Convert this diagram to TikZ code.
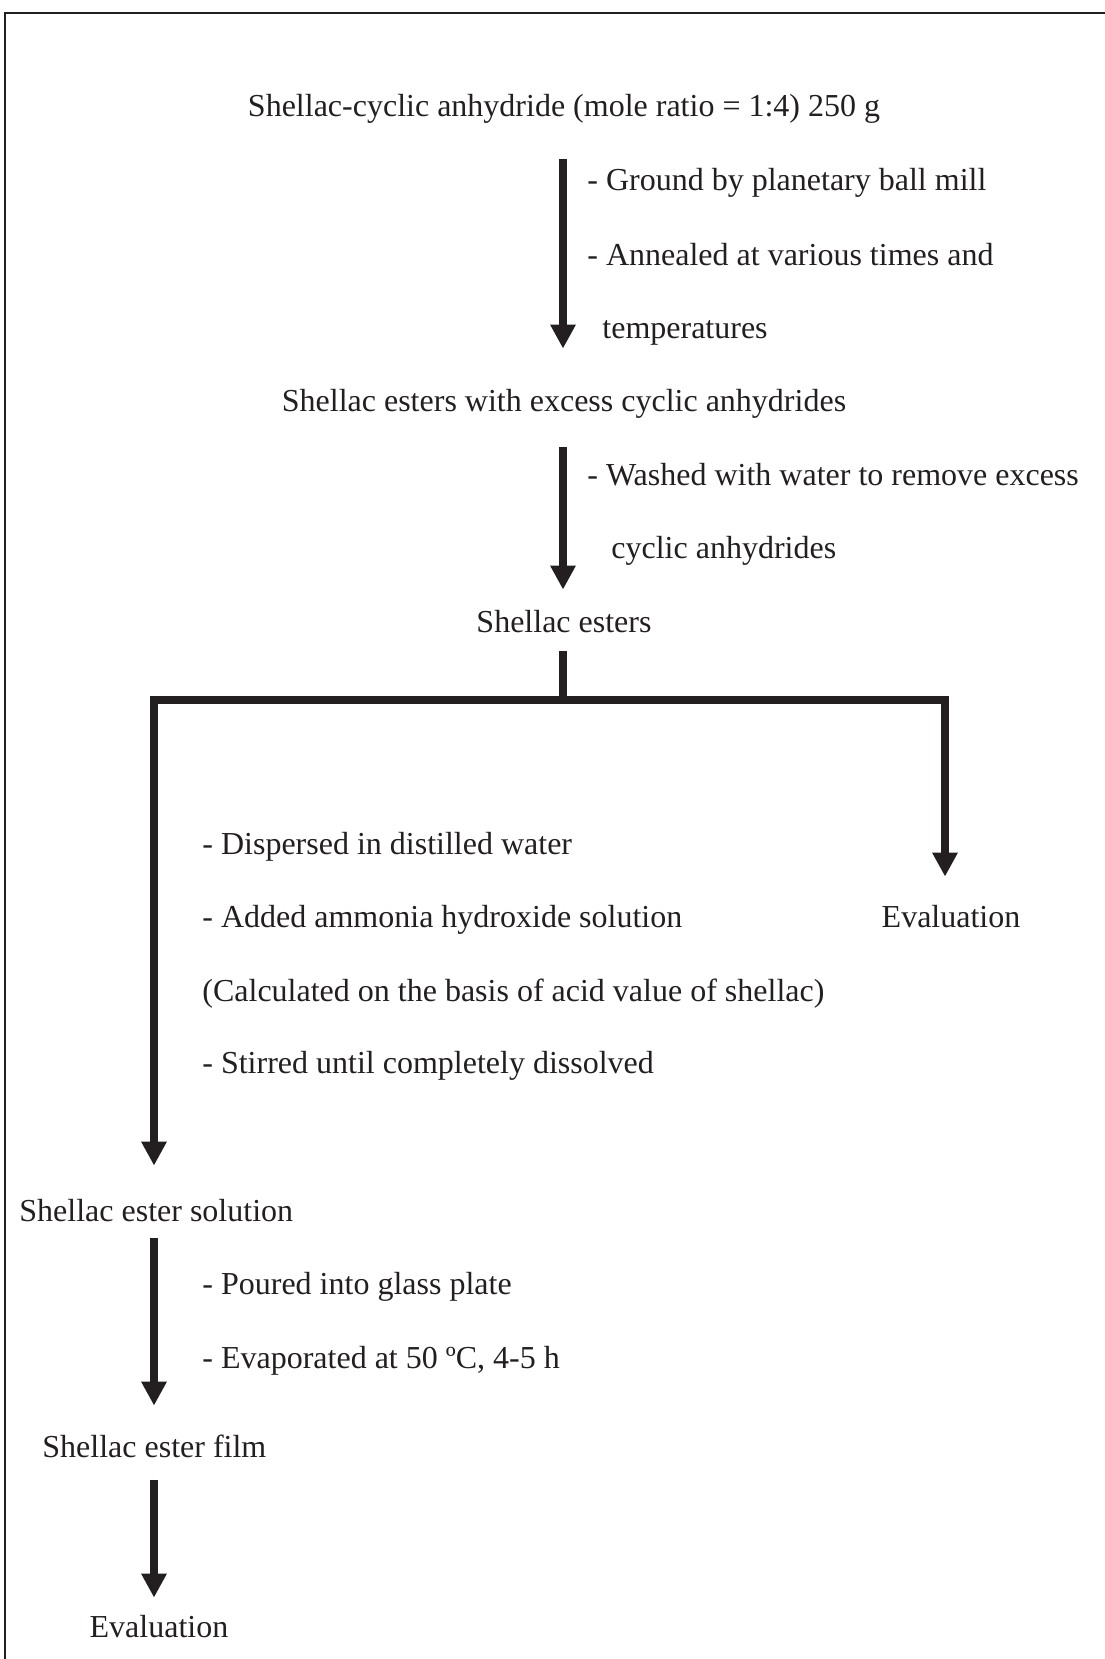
\documentclass[tikz,border=0pt]{standalone}
\usepackage{fontspec}
\setmainfont{Liberation Serif}
\usetikzlibrary{arrows.meta}
\definecolor{ink}{HTML}{231F20}
\begin{document}
\begin{tikzpicture}[x=0.5pt,y=-0.5pt,
  txt/.style={inner sep=0pt,text height=11pt,text depth=3.5pt,font=\fontsize{16}{19}\selectfont,text=ink},
  arr/.style={draw=ink,line width=4pt,-{Triangle[length=12pt,width=12pt]}},
  bar/.style={draw=ink,line width=4pt,line cap=rect},
  stemline/.style={draw=ink,line width=4pt}]
\useasboundingbox (0,0) rectangle (1104,1659);
\draw[ink,line width=1pt] (5,1670) -- (5,13) -- (1115,13);
% nodes
\node[txt,anchor=base] (title) at (564,117) {Shellac-cyclic anhydride (mole ratio = 1:4) 250 g};
\node[txt,anchor=base west] (g1) at (587,191) {- Ground by planetary ball mill};
\node[txt,anchor=base west] (g2) at (587,265) {- Annealed at various times and};
\node[txt,anchor=base west] (g3) at (602,338) {temperatures};
\node[txt,anchor=base] (exc) at (564,411) {Shellac esters with excess cyclic anhydrides};
\node[txt,anchor=base west] (w1) at (587,485) {- Washed with water to remove excess};
\node[txt,anchor=base west] (w2) at (611,558) {cyclic anhydrides};
\node[txt,anchor=base] (est) at (564,632) {Shellac esters};
\node[txt,anchor=base west] (d1) at (202,854) {- Dispersed in distilled water};
\node[txt,anchor=base west] (d2) at (202,927) {- Added ammonia hydroxide solution};
\node[txt,anchor=base west] (d3) at (202,1001) {(Calculated on the basis of acid value of shellac)};
\node[txt,anchor=base west] (d4) at (202,1073) {- Stirred until completely dissolved};
\node[txt,anchor=base] (evR) at (951,927) {Evaluation};
\node[txt,anchor=base west] (sol) at (19,1221) {Shellac ester solution};
\node[txt,anchor=base west] (p1) at (202,1294) {- Poured into glass plate};
\node[txt,anchor=base west] (p2) at (202,1368) {- Evaporated at 50 ºC, 4-5 h};
\node[txt,anchor=base west] (film) at (42,1457) {Shellac ester film};
\node[txt,anchor=base] (evB) at (159,1637) {Evaluation};
% branch coordinates
\coordinate (bc) at (563,700);
\coordinate (bl) at (154,700);
\coordinate (br) at (945,700);
% connectors
\draw[arr,shorten <=17.5pt,shorten >=20pt] (title.south -| bc) -- (exc.north -| bc);
\draw[arr,shorten <=14.5pt,shorten >=10pt] (exc.south -| bc) -- (est.north -| bc);
\draw[stemline,shorten <=6pt] (est.south -| bc) -- (bc);
\draw[bar] (bl) -- (br);
\draw[arr,shorten >=16.5pt] (bl) -- (sol.north -| bl);
\draw[arr,shorten >=14pt] (br) -- (evR.north -| br);
\draw[arr,shorten <=5pt,shorten >=14.5pt] (sol.south -| bl) -- (film.north -| bl);
\draw[arr,shorten <=8pt,shorten >=8.5pt] (film.south -| bl) -- (evB.north -| bl);
\end{tikzpicture}
\end{document}
